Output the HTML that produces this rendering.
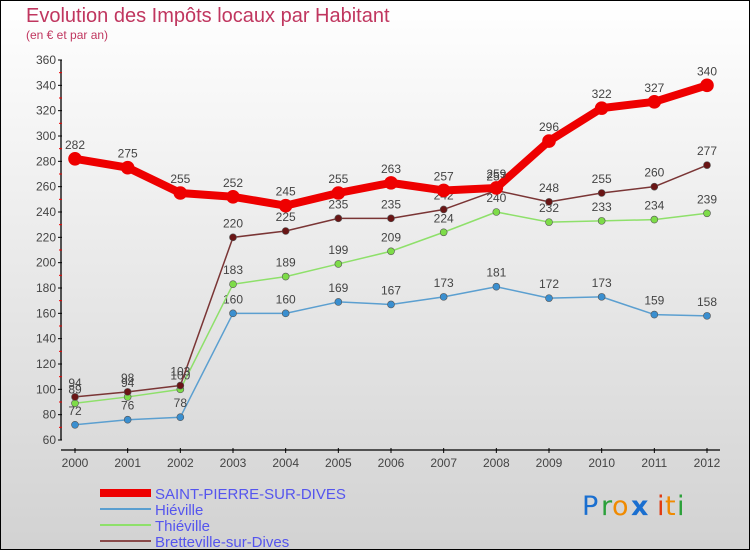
<!DOCTYPE html>
<html><head><meta charset="utf-8"><style>
html,body{margin:0;padding:0}
body{width:750px;height:550px;overflow:hidden;font-family:"Liberation Sans",sans-serif}
svg{display:block}
</style></head><body>
<svg id="chart" width="750" height="550" viewBox="0 0 750 550" xmlns="http://www.w3.org/2000/svg" font-family="'Liberation Sans',sans-serif">
<defs><linearGradient id="bg" x1="0" y1="0" x2="0" y2="1"><stop offset="0" stop-color="#ffffff"/><stop offset="1" stop-color="#d2d2d2"/></linearGradient></defs>
<rect x="0.5" y="0.5" width="749" height="549" fill="url(#bg)" stroke="#000"/>
<text x="26" y="22" font-size="20" fill="#c0365f">Evolution des Impôts locaux par Habitant</text>
<text x="26" y="39" font-size="12" fill="#c0365f">(en € et par an)</text>
<g id="axes"></g><g id="series"></g><g id="legend"></g>
<g font-size="27" font-family="'DejaVu Sans',sans-serif">
<text x="582" y="515" fill="#1a6fd0">P</text><text x="601" y="515" fill="#2ba03a">r</text><text x="612" y="515" fill="#f08a00">o</text><text x="631" y="515" fill="#1a6fd0" font-weight="bold">x</text><text x="657" y="515" fill="#e03a10">i</text><text x="665" y="515" fill="#f08a00">t</text><text x="677" y="515" fill="#2ba03a">i</text>
</g>
</svg>
<script>
const years=[2000,2001,2002,2003,2004,2005,2006,2007,2008,2009,2010,2011,2012];
const yTicks=[60,80,100,120,140,160,180,200,220,240,260,280,300,320,340,360];
const seriesNames=["SAINT-PIERRE-SUR-DIVES","Hiéville","Thiéville","Bretteville-sur-Dives"];
const spsd=[282,275,255,252,245,255,263,257,259,296,322,327,340];
const hieville=[72,76,78,160,160,169,167,173,181,172,173,159,158];
const thieville=[89,94,100,183,189,199,209,224,240,232,233,234,239];
const bretteville=[94,98,103,220,225,235,235,242,257,248,255,260,277];
const NS="http://www.w3.org/2000/svg";
const x0=75,x1=707,yb=440,yt=60,vmin=60,vmax=360;
function xs(i){return x0+(x1-x0)*i/(years.length-1);}
function ys(v){return yb-(v-vmin)*(yb-yt)/(vmax-vmin);}
function mk(tag,attrs,parent,txt){const e=document.createElementNS(NS,tag);for(const k in attrs)e.setAttribute(k,attrs[k]);if(txt!==undefined)e.textContent=txt;parent.appendChild(e);return e;}
const axes=document.getElementById('axes');
let e=mk('line',{x1:61,y1:yt,x2:61,y2:yb,stroke:'#000','stroke-width':1.3},axes);


yTicks.forEach(t=>{
 mk('line',{x1:58,y1:ys(t),x2:62,y2:ys(t),stroke:'#000'},axes);
 if(t<360)mk('line',{x1:59,y1:ys(t+10),x2:62,y2:ys(t+10),stroke:'#e00'},axes);
 const l=mk('text',{x:56,y:ys(t)+4,'text-anchor':'end','font-size':12,fill:'#444'},axes,String(t));
 
 
});
e=mk('line',{x1:61,y1:450,x2:720,y2:450,stroke:'#000','stroke-width':1.3},axes);


years.forEach((y,i)=>{
 mk('line',{x1:xs(i),y1:448,x2:xs(i),y2:453,stroke:'#000'},axes);
 const l=mk('text',{x:xs(i),y:467,'text-anchor':'middle','font-size':12,fill:'#444'},axes,String(y));
 
 
});
const sg=document.getElementById('series');
const defs=[
 {d:hieville,c:'#5b9fd0',f:'#3a8fd0',w:1.5,r:3.5,n:'hieville'},
 {d:thieville,c:'#8ee06a',f:'#7ddc48',w:1.5,r:3.5,n:'thieville'},
 {d:bretteville,c:'#7a3535',f:'#6a1515',w:1.5,r:3.5,n:'bretteville'},
 {d:spsd,c:'#ee0000',f:'#ee0000',w:8,r:6.5,n:'saint-pierre-sur-dives'}
];
defs.forEach(s=>{
 const g=mk('g',{},sg);
 
 
 const pl=mk('polyline',{points:s.d.map((v,i)=>xs(i)+','+ys(v)).join(' '),fill:'none',stroke:s.c,'stroke-width':s.w,'stroke-linejoin':'round'},g);
 
 
 s.d.forEach((v,i)=>{
  const c=mk('circle',{cx:xs(i),cy:ys(v),r:s.r,fill:s.f,stroke:s.n==='saint-pierre-sur-dives'?'#ee0000':'#555','stroke-width':0.6},g);
  
  
  const t=mk('text',{x:xs(i),y:ys(v)-10,'text-anchor':'middle','font-size':12,fill:'#444'},g,String(v));
  
  
 });
});
const lg=document.getElementById('legend');
const lc=[{c:'#ee0000',w:8},{c:'#5b9fd0',w:2},{c:'#8ee06a',w:2},{c:'#8a4a4a',w:2}];
seriesNames.forEach((n,i)=>{
 const y=493+i*16;
 const g=mk('g',{},lg);
 
 
 mk('line',{x1:100,y1:y,x2:151,y2:y,stroke:lc[i].c,'stroke-width':lc[i].w},g);
 mk('text',{x:155,y:y+6,'font-size':15,fill:'#5555ee'},g,n);
});
</script>
</body></html>
